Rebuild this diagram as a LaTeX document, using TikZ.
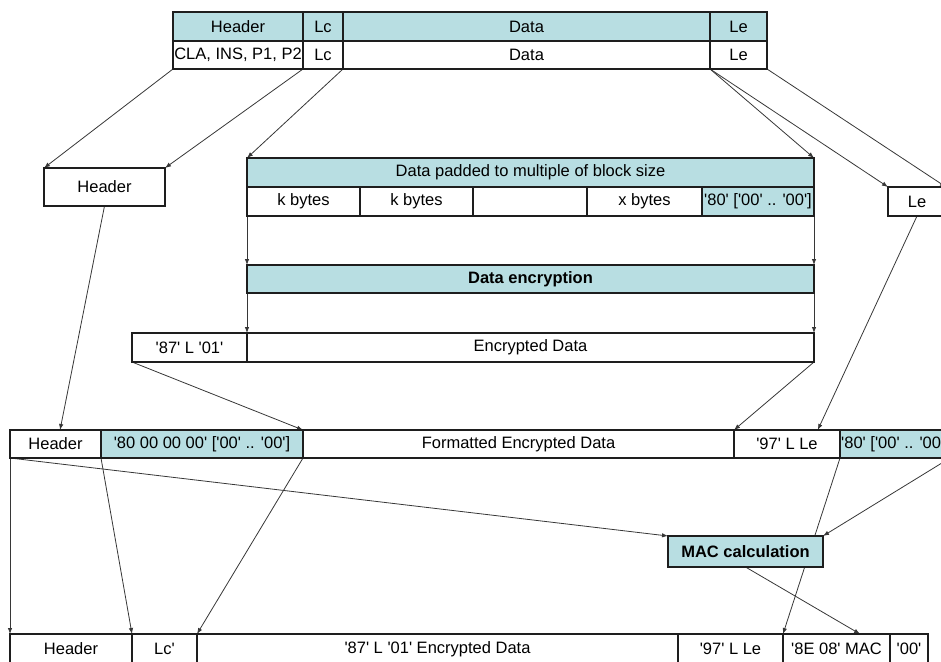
\documentclass[tikz,border=0pt]{standalone}
\usepackage{fontspec}
\newfontfamily\arialfont{Liberation Sans}
\usetikzlibrary{arrows.meta,calc}
\definecolor{tealc}{RGB}{184,222,226}
\definecolor{edgec}{RGB}{30,30,30}
\definecolor{wirec}{RGB}{55,55,55}
\pgfdeclarelayer{wires}
\pgfsetlayers{wires,main}

% #1 fill, #2 name, #3 x1, #4 y1, #5 x2, #6 y2, #7 text
\newcommand\cellbox[7][white]{%
  \node[cellnode, fill=#1, minimum width={(#5)-(#3)}, minimum height={(#6)-(#4)}] (#2) at (#3,#4) {#7};}

\begin{document}
\begin{tikzpicture}[x=1pt,y=-1pt,
  font=\arialfont\fontsize{16.5}{19}\selectfont,
  cellnode/.style={draw=edgec, line width=1.6pt, rectangle, inner sep=0pt, outer sep=0pt, anchor=north west},
  wire/.style={draw=wirec, line width=0.8pt, -{Latex[length=6pt,width=4.5pt]}}]

\useasboundingbox (0,0) rectangle (941,661);
\clip (0,0) rectangle (941,661);

% command APDU
\cellbox[tealc]{th1}{173}{12}{303}{41}{Header}
\cellbox[tealc]{th2}{303}{12}{343}{41}{Lc}
\cellbox[tealc]{th3}{343}{12}{710}{41}{Data}
\cellbox[tealc]{th4}{710}{12}{767}{41}{Le}
\cellbox{tb1}{173}{41}{303}{69}{CLA, INS, P1, P2}
\cellbox{tb2}{303}{41}{343}{69}{Lc}
\cellbox{tb3}{343}{41}{710}{69}{Data}
\cellbox{tb4}{710}{41}{767}{69}{Le}

% header and Le taken apart
\cellbox{hdr}{44}{168}{165}{206}{Header}
\cellbox{le}{888}{187}{946}{216}{Le}

% padded data
\cellbox[tealc]{pad}{247}{158}{814}{187}{Data padded to multiple of block size}
\cellbox{pk1}{247}{187}{360}{216}{k bytes}
\cellbox{pk2}{360}{187}{473}{216}{k bytes}
\cellbox{pk3}{473}{187}{587}{216}{}
\cellbox{pk4}{587}{187}{702}{216}{x bytes}
\cellbox[tealc]{pk5}{702}{187}{814}{216}{'80' ['00' .. '00']}

% encryption
\cellbox[tealc]{enc}{247}{265}{814}{293}{\bfseries Data encryption}
\cellbox{e1}{132}{333}{247}{362}{'87' L '01'}
\cellbox{e2}{247}{333}{814}{362}{Encrypted Data}

% formatted data
\cellbox{f1}{10}{430}{101}{458}{Header}
\cellbox[tealc]{f2}{101}{430}{303}{458}{'80 00 00 00' ['00' .. '00']}
\cellbox{f3}{303}{430}{734}{458}{Formatted Encrypted Data}
\cellbox{f4}{734}{430}{840}{458}{'97' L Le}
\cellbox[tealc]{f5}{840}{430}{950}{458}{'80' ['00' .. '00']}

% MAC
\cellbox[tealc]{mac}{668}{536}{823}{567}{\bfseries MAC calculation}

% secured APDU
\cellbox{b1}{10}{634}{132}{664}{Header}
\cellbox{b2}{132}{634}{197}{664}{Lc'}
\cellbox{b3}{197}{634}{678}{664}{'87' L '01' Encrypted Data}
\cellbox{b4}{678}{634}{783}{664}{'97' L Le}
\cellbox{b5}{783}{634}{890}{664}{'8E 08' MAC}
\cellbox{b6}{890}{634}{928}{664}{'00'}

\begin{pgfonlayer}{wires}
  \draw[wire] (tb1.south west) -- (hdr.north west);
  \draw[wire] (tb1.south east) -- (hdr.north east);
  \draw[wire] (tb3.south west) -- (pad.north west);
  \draw[wire] (tb3.south east) -- (pad.north east);
  \draw[wire] (tb3.south east) -- (le.north west);
  \draw[wire] (tb4.south east) -- (le.north east);
  \draw[wire] (pk1.south west) -- (enc.north west);
  \draw[wire] (pk5.south east) -- (enc.north east);
  \draw[wire] (enc.south west) -- (e2.north west);
  \draw[wire] (enc.south east) -- (e2.north east);
  \draw[wire] (hdr.south) -- ($(f1.north west)!0.55!(f1.north east)$);
  \draw[wire] (e1.south west) -- (f2.north east);
  \draw[wire] (e2.south east) -- (f4.north west);
  \draw[wire] (le.south) -- ($(f4.north west)!0.79!(f4.north east)$);
  \draw[wire] (f1.south west) -- (mac.north west);
  \draw[wire] (f5.south east) -- (mac.north east);
  \draw[wire] (f1.south west) -- (b1.north west);
  \draw[wire] (f1.south east) -- (b2.north west);
  \draw[wire] (f2.south east) -- (b3.north west);
  \draw[wire] (f4.south east) -- (b5.north west);
  \draw[wire] (mac.south) -- ($(b5.north west)!0.72!(b5.north east)$);
\end{pgfonlayer}
\end{tikzpicture}
\end{document}
